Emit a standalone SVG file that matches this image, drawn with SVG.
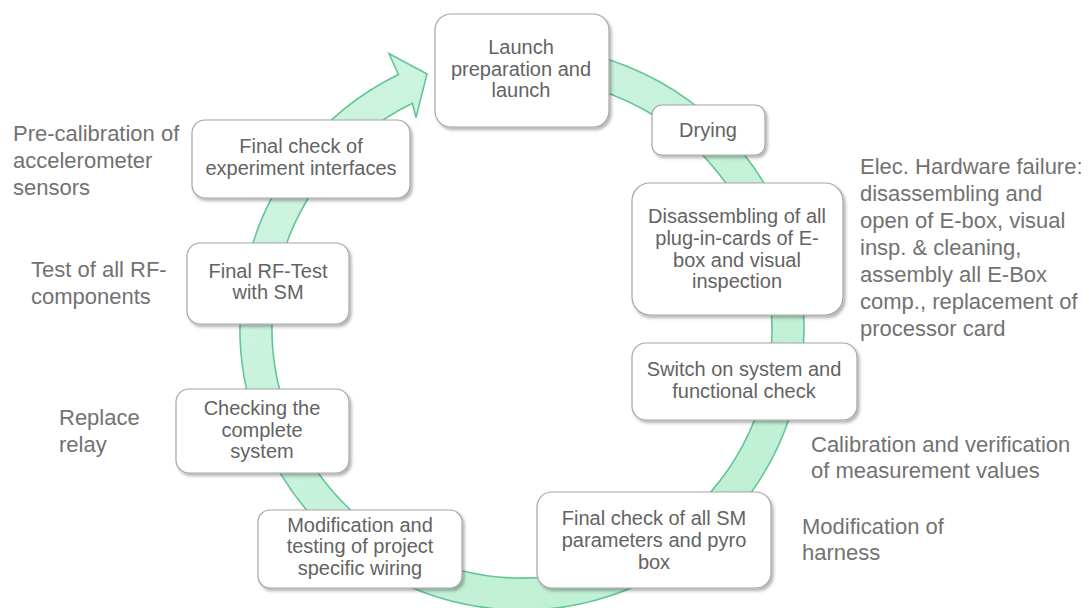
<svg xmlns="http://www.w3.org/2000/svg" width="1089" height="608" viewBox="0 0 1089 608">
<defs>
<linearGradient id="ring" x1="0" y1="0" x2="1" y2="1">
<stop offset="0" stop-color="#d0f4e1"/>
<stop offset="1" stop-color="#bcefd3"/>
</linearGradient>
<filter id="sh" x="-10%" y="-10%" width="125%" height="130%">
<feDropShadow dx="2" dy="2.5" stdDeviation="1.5" flood-color="#000" flood-opacity="0.3"/>
</filter>
</defs>
<style>
.box{fill:#fff;stroke:#a6a6a6;stroke-width:1.2;filter:url(#sh)}
.t{font-family:"Liberation Sans",Arial,sans-serif;font-size:20px;fill:#636363;text-anchor:middle}
.s{font-family:"Liberation Sans",Arial,sans-serif;font-size:22px;fill:#727272}
</style>
<rect width="1089" height="608" fill="#fff"/>
<g id="connectors">
<path d="M497.42,47.07 A282,282 0 1 1 398.38,74.54 L389,53.5 L427,74 L416,117.5 L412.41,103.3 A250,250 0 1 0 500.21,78.95 Z" fill="url(#ring)" stroke="#62c596" stroke-width="1.6" stroke-linejoin="miter"/>
</g>
<g id="n1"><rect class="box" x="435" y="14" width="174" height="113" rx="16"/>
<text class="t" x="521" y="54">Launch</text><text class="t" x="521" y="76">preparation and</text><text class="t" x="521" y="97">launch</text></g>
<g id="n2"><rect class="box" x="652" y="105" width="113" height="50" rx="10"/>
<text class="t" x="708" y="137">Drying</text></g>
<g id="n3"><rect class="box" x="632" y="183" width="211" height="132" rx="18"/>
<text class="t" x="737" y="223">Disassembling of all</text><text class="t" x="737" y="245">plug-in-cards of E-</text><text class="t" x="737" y="267">box and visual</text><text class="t" x="737" y="288">inspection</text></g>
<g id="n4"><rect class="box" x="632" y="343" width="225" height="77" rx="14"/>
<text class="t" x="744" y="376">Switch on system and</text><text class="t" x="744" y="398">functional check</text></g>
<g id="n5"><rect class="box" x="537" y="492" width="234" height="96" rx="15"/>
<text class="t" x="654" y="525">Final check of all SM</text><text class="t" x="654" y="547">parameters and pyro</text><text class="t" x="654" y="569">box</text></g>
<g id="n6"><rect class="box" x="258" y="510" width="204" height="78" rx="12"/>
<text class="t" x="360" y="532">Modification and</text><text class="t" x="360" y="553">testing of project</text><text class="t" x="360" y="575">specific wiring</text></g>
<g id="n7"><rect class="box" x="176" y="389" width="173" height="84" rx="13"/>
<text class="t" x="262" y="415">Checking the</text><text class="t" x="262" y="437">complete</text><text class="t" x="262" y="458">system</text></g>
<g id="n8"><rect class="box" x="187" y="243" width="162" height="81" rx="13"/>
<text class="t" x="268" y="278">Final RF-Test</text><text class="t" x="268" y="299">with SM</text></g>
<g id="n9"><rect class="box" x="192" y="120" width="218" height="78" rx="13"/>
<text class="t" x="301" y="153">Final check of</text><text class="t" x="301" y="175">experiment interfaces</text></g>
<g id="labels">
<text class="s" x="13" y="141">Pre-calibration of</text>
<text class="s" x="13" y="168">accelerometer</text>
<text class="s" x="13" y="195">sensors</text>
<text class="s" x="31" y="277">Test of all RF-</text>
<text class="s" x="31" y="304">components</text>
<text class="s" x="59" y="425">Replace</text>
<text class="s" x="59" y="452">relay</text>
<text class="s" x="860" y="174">Elec. Hardware failure:</text>
<text class="s" x="860" y="201">disassembling and</text>
<text class="s" x="860" y="228">open of E-box, visual</text>
<text class="s" x="860" y="255">insp. &amp; cleaning,</text>
<text class="s" x="860" y="282">assembly all E-Box</text>
<text class="s" x="860" y="309">comp., replacement of</text>
<text class="s" x="860" y="336">processor card</text>
<text class="s" x="811" y="452">Calibration and verification</text>
<text class="s" x="811" y="478">of measurement values</text>
<text class="s" x="802" y="534">Modification of</text>
<text class="s" x="802" y="560">harness</text>
</g>
</svg>
